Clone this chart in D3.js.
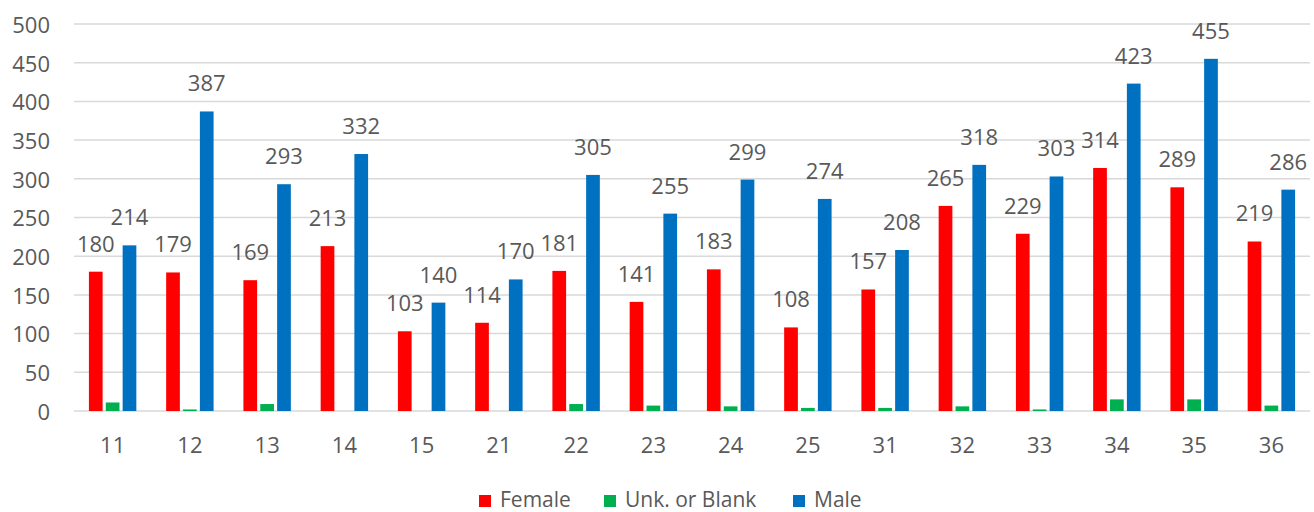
<!DOCTYPE html>
<html>
<head>
<meta charset="utf-8">
<script src="https://cdn.jsdelivr.net/npm/d3@7"></script>
<style>
  html, body { margin: 0; padding: 0; background: #fff; }
  svg { display: block; }
  text { font-family: "Open Sans", sans-serif; fill: #595959; }
</style>
</head>
<body>
<svg id="chart" width="1314" height="512"></svg>
<script>
const categories = ["11","12","13","14","15","21","22","23","24","25","31","32","33","34","35","36"];
const seriesNames = ["Female", "Unk. or Blank", "Male"];
const female = [180,179,169,213,103,114,181,141,183,108,157,265,229,314,289,219];
const unknown = [11,2,9,0,0,0,9,7,6,4,4,6,2,15,15,7];
const male = [214,387,293,332,140,170,305,255,299,274,208,318,303,423,455,286];
const yTicks = [0,50,100,150,200,250,300,350,400,450,500];
const colors = ["#FF0000", "#00B050", "#0070C0"];
const labelled = [true, false, true];

const svg = d3.select("#chart");
const plotLeft = 74, plotRight = 1310, plotTop = 24, plotBottom = 411;

const x0 = d3.scaleBand().domain(categories).range([plotLeft, plotRight])
  .paddingInner(0.386).paddingOuter(0.193);
const x1 = d3.scaleBand().domain(seriesNames).range([0, x0.bandwidth()])
  .paddingInner(0.187).paddingOuter(0);
const y = d3.scaleLinear().domain([0, 500]).range([plotBottom, plotTop]);

// gridlines
svg.append("g").selectAll("line").data(yTicks).join("line")
  .attr("x1", plotLeft).attr("x2", plotRight)
  .attr("y1", d => y(d)).attr("y2", d => y(d))
  .attr("stroke", "#D9D9D9").attr("stroke-width", 1.5);

// y axis labels
const yAxis = d3.axisLeft(y).tickValues(yTicks).tickSize(0).tickPadding(0);
const yg = svg.append("g").attr("transform", `translate(50,0)`).call(yAxis);
yg.select(".domain").remove();
yg.selectAll("text").style("font-size", "22px").attr("fill", "#595959")
  .style("font-family", '"Open Sans", sans-serif').attr("dy", "0.38em");

// x axis labels
const xAxis = d3.axisBottom(x0).tickSize(0).tickPadding(0);
const xg = svg.append("g").attr("transform", `translate(0,${plotBottom + 26})`).call(xAxis);
xg.select(".domain").remove();
xg.selectAll("text").style("font-size", "22px").attr("fill", "#595959")
  .style("font-family", '"Open Sans", sans-serif').attr("dy", "0.71em");

const data = categories.map((c, i) => ({ cat: c, vals: [female[i], unknown[i], male[i]] }));

const groups = svg.append("g").selectAll("g").data(data).join("g")
  .attr("transform", d => `translate(${x0(d.cat)},0)`);

groups.selectAll("rect")
  .data(d => d.vals.map((v, k) => ({ v, k })))
  .join("rect")
  .attr("x", d => x1(seriesNames[d.k]))
  .attr("width", x1.bandwidth())
  .attr("y", d => y(d.v))
  .attr("height", d => y(0) - y(d.v))
  .attr("fill", d => colors[d.k]);

groups.selectAll("text.lbl")
  .data(d => d.vals.map((v, k) => ({ v, k })).filter(d => labelled[d.k]))
  .join("text")
  .attr("class", "lbl")
  .attr("x", d => x1(seriesNames[d.k]) + x1.bandwidth() / 2)
  .attr("y", d => y(d.v) - 20)
  .attr("text-anchor", "middle")
  .style("font-size", "22px")
  .text(d => d.v);

// legend
const legendItems = [
  { name: seriesNames[0], color: colors[0], x: 479 },
  { name: seriesNames[1], color: colors[1], x: 604 },
  { name: seriesNames[2], color: colors[2], x: 793 }
];
const lg = svg.append("g");
legendItems.forEach(it => {
  lg.append("rect").attr("x", it.x).attr("y", 495).attr("width", 12).attr("height", 12).attr("fill", it.color);
  lg.append("text").attr("x", it.x + 21).attr("y", 507).style("font-size", "21px").text(it.name);
});
</script>
</body>
</html>
